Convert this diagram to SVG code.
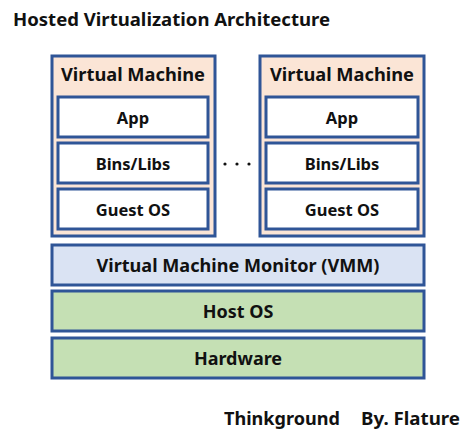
<svg xmlns="http://www.w3.org/2000/svg" width="474" height="441" viewBox="0 0 474 441">
<style>
.box{stroke:#2F5597;stroke-width:3}
.vm{fill:#FBE5D6}
.in{fill:#FFFFFF}
.vmm{fill:#DAE3F3}
.host{fill:#C5E0B4}
text{font-family:"Noto Sans","DejaVu Sans",sans-serif;font-weight:bold;fill:#111;text-anchor:middle}
.t18{font-size:18px}
.t16{font-size:16.5px}
</style>
<rect width="474" height="441" fill="#fff"/>
<text x="13" y="26" class="t18" style="text-anchor:start" textLength="317" lengthAdjust="spacingAndGlyphs">Hosted Virtualization Architecture</text>
<g id="vm1">
<rect class="box vm" x="52" y="56" width="163" height="180"/>
<text x="133" y="81" class="t18" textLength="144" lengthAdjust="spacingAndGlyphs">Virtual Machine</text>
<g id="vm1-app"><rect class="box in" x="58" y="97" width="150" height="40"/><text x="133" y="124" class="t16">App</text></g>
<g id="vm1-bins"><rect class="box in" x="58" y="143" width="150" height="40"/><text x="133" y="170" class="t16">Bins/Libs</text></g>
<g id="vm1-guest"><rect class="box in" x="58" y="189" width="150" height="40"/><text x="133" y="216" class="t16">Guest OS</text></g>
</g>
<g id="dots" fill="#111">
<circle cx="225" cy="164" r="1.6"/><circle cx="237" cy="164" r="1.6"/><circle cx="249" cy="164" r="1.6"/>
</g>
<g id="vm2">
<rect class="box vm" x="260" y="56" width="164" height="180"/>
<text x="342" y="81" class="t18" textLength="144" lengthAdjust="spacingAndGlyphs">Virtual Machine</text>
<g id="vm2-app"><rect class="box in" x="266" y="97" width="152" height="40"/><text x="342" y="124" class="t16">App</text></g>
<g id="vm2-bins"><rect class="box in" x="266" y="143" width="152" height="40"/><text x="342" y="170" class="t16">Bins/Libs</text></g>
<g id="vm2-guest"><rect class="box in" x="266" y="189" width="152" height="40"/><text x="342" y="216" class="t16">Guest OS</text></g>
</g>
<g id="vmm"><rect class="box vmm" x="52" y="245" width="372" height="40"/><text x="238" y="272" class="t18" textLength="283" lengthAdjust="spacingAndGlyphs">Virtual Machine Monitor (VMM)</text></g>
<g id="hostos"><rect class="box host" x="52" y="291" width="372" height="40"/><text x="238" y="318" class="t18">Host OS</text></g>
<g id="hardware"><rect class="box host" x="52" y="338" width="372" height="40"/><text x="238" y="365" class="t18">Hardware</text></g>
<text x="224" y="425" class="t18" style="text-anchor:start" textLength="116" lengthAdjust="spacingAndGlyphs">Thinkground</text>
<text x="361" y="425" class="t18" style="text-anchor:start" textLength="99" lengthAdjust="spacingAndGlyphs">By. Flature</text>
<g id="connectors"></g>
</svg>
